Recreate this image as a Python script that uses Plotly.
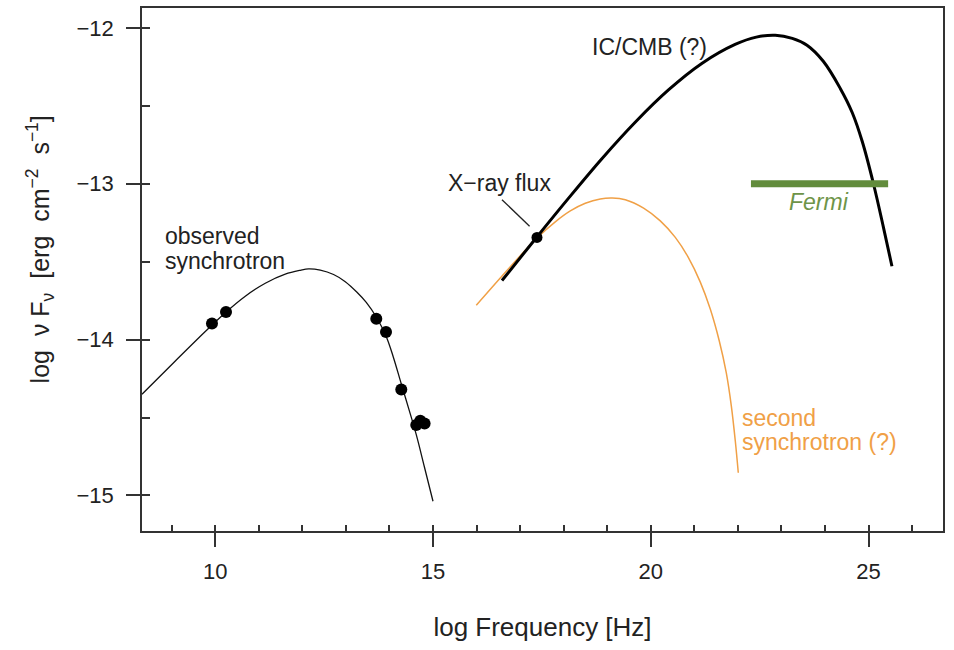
import plotly.graph_objects as go

# ---- data -------------------------------------------------------------
# observed synchrotron measurements (log nu, log nuFnu)
obs_x = [9.924, 10.246, 13.697, 13.92, 14.271, 14.615, 14.707, 14.806]
obs_y = [-13.896, -13.822, -13.866, -13.951, -14.32, -14.548, -14.521, -14.538]

# model curve through the observed synchrotron points
sync_x = [8.317, 9.082, 9.77, 10.23, 10.689, 11.148, 11.607, 11.952, 12.142,
          12.411, 12.716, 12.985, 13.254, 13.467, 13.697, 13.92, 14.087, 14.271,
          14.443, 14.615, 14.799, 14.999]
sync_y = [-14.35, -14.137, -13.948, -13.827, -13.721, -13.638, -13.58, -13.555,
          -13.546, -13.554, -13.582, -13.628, -13.696, -13.761, -13.855, -13.977,
          -14.111, -14.284, -14.444, -14.61, -14.814, -15.037]

# inverse-Compton off the CMB
ic_x = [16.583, 17.348, 18.113, 18.877, 19.642, 20.406, 21.171, 21.936, 22.423,
        22.859, 23.249, 23.587, 23.961, 24.351, 24.627, 24.856, 25.116, 25.346,
        25.538]
ic_y = [-13.621, -13.354, -13.092, -12.839, -12.605, -12.398, -12.228, -12.106,
        -12.059, -12.047, -12.067, -12.111, -12.214, -12.388, -12.544, -12.729,
        -13.003, -13.284, -13.529]

# hypothetical second synchrotron component
sec_x = [15.993, 16.544, 17.003, 17.387, 17.807, 18.152, 18.496, 18.84, 19.116,
         19.415, 19.835, 20.218, 20.563, 20.861, 21.137, 21.366, 21.573, 21.734,
         21.849, 21.94, 22.009]
sec_y = [-13.779, -13.604, -13.462, -13.348, -13.244, -13.174, -13.125, -13.097,
         -13.091, -13.102, -13.156, -13.238, -13.344, -13.472, -13.631, -13.804,
         -14.009, -14.214, -14.425, -14.649, -14.854]

# X-ray flux point
xray_x = [17.387]
xray_y = [-13.344]

# Fermi band
fermi_x = [22.3, 25.45]
fermi_y = [-13.0, -13.0]

# axes
x_range = [8.317, 26.71]
y_range = [-15.228, -11.872]
x_major = [10, 15, 20, 25]
x_major_text = ["10", "15", "20", "25"]
x_minor = list(range(9, 27))
y_major = [-15, -14, -13, -12]
y_major_text = ["\u221215", "\u221214", "\u221213", "\u221212"]
y_minor = [-15.0, -14.5, -14.0, -13.5, -13.0, -12.5, -12.0]

# ---- styling ------------------------------------------------------------
FONT = "Liberation Sans, Arial, sans-serif"
INK = "#222222"
AXIS = "#333333"
ORANGE = "#f0a046"
GREEN = "#628c3c"

fig = go.Figure()

fig.add_trace(go.Scatter(x=sync_x, y=sync_y, mode="lines",
                         line=dict(color="#111111", width=1.3, shape="spline", smoothing=1.0)))
fig.add_trace(go.Scatter(x=obs_x, y=obs_y, mode="markers",
                         marker=dict(color="black", size=12)))
fig.add_trace(go.Scatter(x=sec_x, y=sec_y, mode="lines",
                         line=dict(color=ORANGE, width=1.5, shape="spline", smoothing=1.0)))
fig.add_trace(go.Scatter(x=ic_x, y=ic_y, mode="lines",
                         line=dict(color="black", width=3, shape="spline", smoothing=1.0)))
fig.add_trace(go.Scatter(x=xray_x, y=xray_y, mode="markers",
                         marker=dict(color="black", size=11)))
# Fermi band sits on the overlay axes (identical ranges) so their ticks render
fig.add_trace(go.Scatter(x=fermi_x, y=fermi_y, mode="lines", xaxis="x2", yaxis="y2",
                         line=dict(color=GREEN, width=7)))

axis_common = dict(showgrid=False, zeroline=False)

fig.update_layout(
    width=954, height=650,
    margin=dict(l=142, r=11, t=6, b=119),
    paper_bgcolor="white", plot_bgcolor="white",
    showlegend=False,
    font=dict(family=FONT, color=INK, size=22),
    xaxis=dict(**axis_common, range=x_range, tickmode="array",
               tickvals=x_major, ticktext=x_major_text,
               ticks="outside", ticklen=14, tickwidth=1.5, tickcolor=AXIS,
               showline=True, linecolor=AXIS, linewidth=1.5, mirror=True,
               tickfont=dict(size=22, color=INK), ticklabelstandoff=6,
               title=dict(text="log Frequency [Hz]", font=dict(size=26, color=INK),
                          standoff=35)),
    yaxis=dict(**axis_common, range=y_range, tickmode="array",
               tickvals=y_major, ticktext=y_major_text,
               ticks="outside", ticklen=14, tickwidth=1.5, tickcolor=AXIS,
               showline=True, linecolor=AXIS, linewidth=1.5, mirror=True,
               tickfont=dict(size=22, color=INK), ticklabelstandoff=8),
    xaxis2=dict(**axis_common, range=x_range, overlaying="x", anchor="y", side="bottom",
                tickmode="array", tickvals=x_minor, ticks="inside", ticklen=6,
                tickwidth=1.5, tickcolor=AXIS, showticklabels=False, showline=False),
    yaxis2=dict(**axis_common, range=y_range, overlaying="y", anchor="x", side="left",
                tickmode="array", tickvals=y_minor, ticks="inside", ticklen=8,
                tickwidth=1.5, tickcolor=AXIS, showticklabels=False, showline=False),
)

# vertical axis title
fig.add_annotation(
    text="log\u00a0\u00a0\u03bd\u00a0F<sub>\u03bd</sub>\u00a0\u00a0[erg\u00a0\u00a0cm<sup>\u22122</sup>\u00a0\u00a0s<sup>\u22121</sup>]",
    xref="paper", yref="paper", x=-0.127, y=0.539, textangle=-90,
    xanchor="center", yanchor="middle", showarrow=False,
    font=dict(family=FONT, size=25, color=INK))


def label(text, x, y, color=INK, size=23, xanchor="left", italic=False):
    fig.add_annotation(x=x, y=y, text=text, showarrow=False, xanchor=xanchor,
                       yanchor="middle",
                       font=dict(family=FONT, size=size, color=color,
                                 style="italic" if italic else "normal"))


label("observed", 8.8, -13.337)
label("synchrotron", 8.8, -13.493)
label("IC/CMB (?)", 18.6, -12.125)
label("X\u2212ray flux", 15.3, -12.992)
label("Fermi", 23.853, -13.12, color="#6e9448", xanchor="center", italic=True)
label("second", 22.05, -14.502, color=ORANGE)
label("synchrotron (?)", 22.05, -14.655, color=ORANGE)

# pointer from the X-ray label to the measured flux
fig.add_shape(type="line", xref="x", yref="y",
              x0=16.583, y0=-13.102, x1=17.217, y1=-13.273,
              line=dict(color=INK, width=1.3))

fig.write_html("out.html")
